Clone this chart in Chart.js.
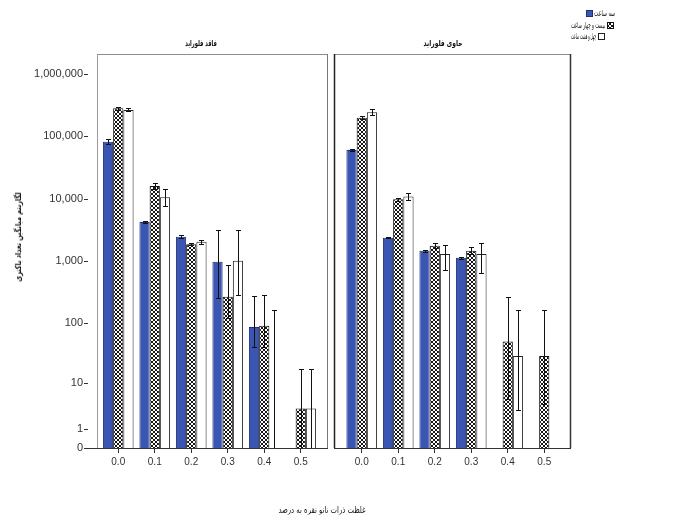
<!DOCTYPE html>
<html>
<head>
<meta charset="utf-8">
<script src="https://cdn.jsdelivr.net/npm/chart.js@4.4.1/dist/chart.umd.min.js"></script>
<style>
  html, body { margin: 0; padding: 0; background: #fff; }
  #wrap { position: relative; width: 675px; height: 520px; overflow: hidden; background: #fff; }
  #wrap canvas { position: absolute; left: 0; top: 0; }
  .txt { position: absolute; font-family: "DejaVu Sans", sans-serif; color: #111; white-space: nowrap; direction: rtl; }
  .bold { font-weight: bold; }
</style>
</head>
<body>
<div id="wrap">
  <canvas id="chartNoF" width="675" height="520"></canvas>
  <canvas id="chartF" width="675" height="520"></canvas>
  <div class="txt bold" id="titleNoF" style="left:201px; top:43px; font-size:8.5px; transform: translate(-50%, -50%) scaleX(0.6);"></div>
  <div class="txt bold" id="titleF" style="left:443px; top:43px; font-size:8.5px; transform: translate(-50%, -50%) scaleX(0.7);"></div>
  <div class="txt bold" id="yTitle" style="left:18px; top:237px; font-size:8.5px; transform: translate(-50%, -50%) rotate(-90deg) scaleX(0.76);"></div>
  <div class="txt" id="xTitle" style="left:322px; top:509px; font-size:9.5px; transform: translate(-50%, -50%) scaleX(0.72);"></div>
</div>
<script>
// Silver-nanoparticle concentration (%) on the x axis
const categories = ['0.0', '0.1', '0.2', '0.3', '0.4', '0.5'];
const seriesNames = ['سه ساعت', 'بیست و چهار ساعت', 'چهل و هشت ساعت'];
const panelNames = ['فاقد فلوراید', 'حاوی فلوراید'];
const xTitle = 'غلظت ذرات نانو نقره به درصد';
const yTitle = 'لگاریتم میانگین تعداد باکتری';

// Y axis tick values and their printed labels
const yTickValues = [0, 1, 10, 100, 1000, 10000, 100000, 1000000];
const yTickLabels = ['0', '1', '10', '100', '1,000', '10,000', '100,000', '1,000,000'];

// Mean bacterial counts, panel without fluoride
const noF_3h  = [82000, 4200, 2450, 970, 86, 0];
const noF_24h = [282000, 16000, 1850, 267, 90, 3.3];
const noF_48h = [265000, 10500, 2040, 1010, 0, 3.3];
// Error bar ranges [low, high], panel without fluoride
const noF_3h_err  = [[75000, 90000], [4050, 4350], [2300, 2600], [250, 3160], [40, 275], null];
const noF_24h_err = [[262000, 300000], [14500, 17500], [1780, 1930], [120, 860], [40, 284], [0, 17.5]];
const noF_48h_err = [[250000, 285000], [7500, 14300], [1900, 2200], [280, 3160], [0, 160], [0, 17.5]];

// Mean bacterial counts, panel with fluoride
const F_3h  = [60400, 2360, 1460, 1125, 0, 0];
const F_24h = [199000, 9770, 1760, 1460, 50, 29];
const F_48h = [243000, 10800, 1290, 1290, 29, 0];
// Error bar ranges [low, high], panel with fluoride
const F_3h_err  = [[57500, 63500], [2300, 2420], [1400, 1520], [1080, 1170], null, null];
const F_24h_err = [[190000, 210000], [9200, 10300], [1600, 1950], [1300, 1650], [5, 268], [4, 160]];
const F_48h_err = [[220000, 270000], [9500, 12200], [720, 1800], [640, 1940], [3, 162], null];

// Counts are plotted as log10(count + 1)
const lg = v => Math.log10(v + 1);
const toPlot = arr => arr.map(v => (v > 0 ? lg(v) : null));

document.getElementById('titleNoF').textContent = panelNames[0];
document.getElementById('titleF').textContent = panelNames[1];
document.getElementById('xTitle').textContent = xTitle;
document.getElementById('yTitle').textContent = yTitle;

// Cross-hatched fill used by the 24 h series
function makeHatch() {
  const c = document.createElement('canvas');
  c.width = 4; c.height = 4;
  const g = c.getContext('2d');
  g.fillStyle = '#fff';
  g.fillRect(0, 0, 4, 4);
  g.fillStyle = '#151515';
  [[1, 0], [2, 0], [0, 1], [3, 1], [0, 2], [3, 2], [1, 3], [2, 3]].forEach(([a, b]) => g.fillRect(a, b, 1, 1));
  return g.createPattern(c, 'repeat');
}

const seriesStyles = [
  { backgroundColor: '#3b55b2', borderColor: '#1e2f78' },
  { backgroundColor: null, borderColor: '#111' },
  { backgroundColor: '#ffffff', borderColor: '#222' }
];

// Vertical error bars with caps, placed from each bar's own x and the y scale
const errorBarPlugin = {
  id: 'errorBars',
  afterDatasetsDraw(chart) {
    const ctx = chart.ctx;
    const y = chart.scales.y;
    ctx.save();
    ctx.strokeStyle = '#111';
    ctx.lineWidth = 1;
    chart.data.datasets.forEach((ds, di) => {
      const meta = chart.getDatasetMeta(di);
      (ds.errorRanges || []).forEach((r, j) => {
        if (!r) return;
        const x = Math.round(meta.data[j].x) + 0.5;
        const yHi = Math.round(y.getPixelForValue(lg(r[1]))) + 0.5;
        const yLo = Math.round(y.getPixelForValue(lg(r[0]))) + 0.5;
        ctx.beginPath();
        ctx.moveTo(x, yLo); ctx.lineTo(x, yHi);
        ctx.moveTo(x - 2.5, yHi); ctx.lineTo(x + 2.5, yHi);
        if (r[0] > 0) { ctx.moveTo(x - 2.5, yLo); ctx.lineTo(x + 2.5, yLo); }
        ctx.stroke();
      });
    });
    ctx.restore();
  }
};

// Panel box: frame lines around the plotting area plus the baseline
function framePlugin(f) {
  return {
    id: 'panelFrame',
    afterDraw(chart) {
      const ctx = chart.ctx;
      const a = chart.chartArea;
      const L = a.left + f.leftOff, R = a.right + f.rightOff;
      ctx.save();
      ctx.lineWidth = 1;
      ctx.strokeStyle = '#8c8c8c';
      ctx.beginPath(); ctx.moveTo(L, a.top + 0.5); ctx.lineTo(R, a.top + 0.5); ctx.stroke();
      ctx.strokeStyle = f.leftColor; ctx.lineWidth = f.leftWidth;
      ctx.beginPath(); ctx.moveTo(L + 0.5, a.top); ctx.lineTo(L + 0.5, a.bottom); ctx.stroke();
      ctx.strokeStyle = f.rightColor; ctx.lineWidth = f.rightWidth;
      ctx.beginPath(); ctx.moveTo(R + 0.5, a.top); ctx.lineTo(R + 0.5, a.bottom); ctx.stroke();
      ctx.strokeStyle = '#333'; ctx.lineWidth = 1;
      ctx.beginPath(); ctx.moveTo(a.left + f.baseOff, a.bottom + 0.5); ctx.lineTo(R + 1, a.bottom + 0.5); ctx.stroke();
      if (f.yDashes) {
        const y = chart.scales.y;
        y.ticks.forEach(t => {
          const py = Math.round(y.getPixelForValue(t.value)) + 0.5;
          ctx.beginPath(); ctx.moveTo(a.left - 16, py); ctx.lineTo(a.left - 12, py); ctx.stroke();
        });
      }
      ctx.restore();
    }
  };
}

// Legend in the top-right corner
const legendPlugin = {
  id: 'cornerLegend',
  afterDraw(chart) {
    const ctx = chart.ctx;
    const rows = [
      { sx: 586, sy: 10, tx: 594, align: 'left', w: 21 },
      { sx: 607, sy: 22, tx: 605, align: 'right', w: 34 },
      { sx: 598, sy: 33, tx: 596, align: 'right', w: 25 }
    ];
    ctx.save();
    ctx.font = '8.5px "DejaVu Sans"';
    ctx.textBaseline = 'middle';
    ctx.direction = 'rtl';
    rows.forEach((r, i) => {
      const ds = chart.data.datasets[i];
      ctx.fillStyle = ds.backgroundColor;
      ctx.fillRect(r.sx, r.sy, 7, 7);
      ctx.strokeStyle = ds.borderColor;
      ctx.lineWidth = 1;
      ctx.strokeRect(r.sx + 0.5, r.sy + 0.5, 6, 6);
      ctx.fillStyle = '#111';
      ctx.textAlign = r.align;
      ctx.fillText(seriesNames[i], r.tx, r.sy + 4, r.w);
    });
    ctx.restore();
  }
};

const hatch = makeHatch();
seriesStyles[1].backgroundColor = hatch;

function buildDatasets(vals, errs) {
  return vals.map((v, i) => ({
    label: seriesNames[i],
    data: toPlot(v),
    errorRanges: errs[i],
    backgroundColor: seriesStyles[i].backgroundColor,
    borderColor: seriesStyles[i].borderColor,
    borderWidth: 1,
    borderSkipped: 'start',
    categoryPercentage: 0.84,
    barPercentage: 1.0
  }));
}

function yScale(show) {
  return {
    type: 'linear',
    display: show,
    min: 0,
    max: 6.32,
    afterFit(scale) { scale.width = show ? 100 : 0; },
    afterBuildTicks(scale) { scale.ticks = yTickValues.map(v => ({ value: lg(v) })); },
    grid: { display: false, drawTicks: false },
    border: { display: false },
    ticks: {
      autoSkip: false,
      padding: 17,
      color: '#333',
      font: { family: '"Liberation Sans", Arial, sans-serif', size: 11 },
      callback: (val, idx) => yTickLabels[idx]
    }
  };
}

function xScale() {
  return {
    type: 'category',
    afterFit(scale) { scale.height = 72; },
    grid: { drawOnChartArea: false, drawTicks: true, tickLength: 5, offset: false, color: '#333' },
    border: { display: false },
    ticks: {
      padding: 3,
      color: '#333',
      maxRotation: 0,
      autoSkip: false,
      font: { family: '"Liberation Sans", Arial, sans-serif', size: 10 }
    }
  };
}

function makePanel(id, vals, errs, pad, showY, frame, extra) {
  return new Chart(document.getElementById(id), {
    type: 'bar',
    data: { labels: categories, datasets: buildDatasets(vals, errs) },
    options: {
      responsive: false,
      animation: false,
      devicePixelRatio: 1,
      layout: { padding: pad },
      plugins: { legend: { display: false }, tooltip: { enabled: false }, title: { display: false } },
      scales: { x: xScale(), y: yScale(showY) }
    },
    plugins: [errorBarPlugin, framePlugin(frame)].concat(extra)
  });
}

makePanel('chartNoF',
  [noF_3h, noF_24h, noF_48h], [noF_3h_err, noF_24h_err, noF_48h_err],
  { left: 0, right: 356, top: 54, bottom: 0 }, true,
  { leftOff: -3, rightOff: 8, baseOff: -14, leftColor: '#9a9a9a', leftWidth: 1, rightColor: '#777', rightWidth: 1, yDashes: true },
  []);

makePanel('chartF',
  [F_3h, F_24h, F_48h], [F_3h_err, F_24h_err, F_48h_err],
  { left: 343.5, right: 112.5, top: 54, bottom: 0 }, false,
  { leftOff: -9.5, rightOff: 7.5, baseOff: -9.5, leftColor: '#222', leftWidth: 1.5, rightColor: '#333', rightWidth: 1.5, yDashes: false },
  [legendPlugin]);
</script>
</body>
</html>
